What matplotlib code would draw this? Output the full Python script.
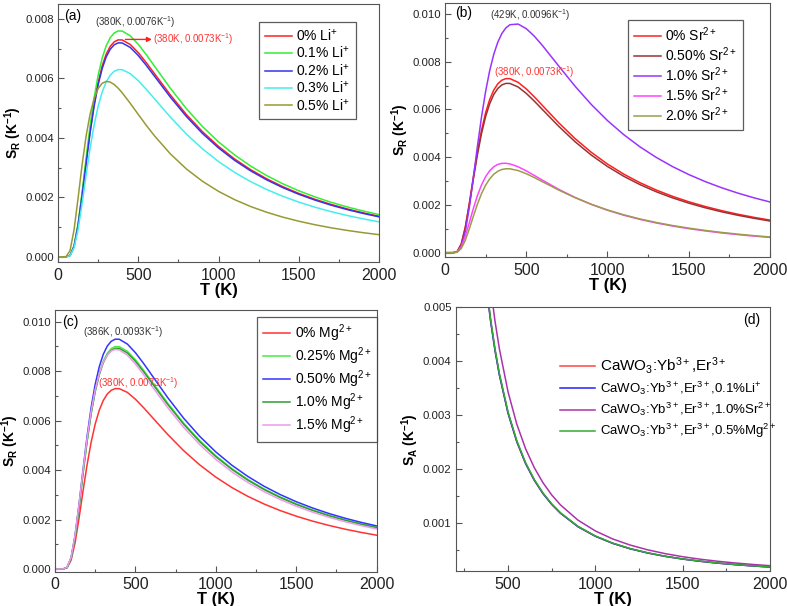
import numpy as np
import matplotlib
matplotlib.use('Agg')
import matplotlib.pyplot as plt
from matplotlib.ticker import MultipleLocator, FormatStrFormatter

plt.rcParams['font.family'] = ['Liberation Sans', 'DejaVu Sans']
plt.rcParams['mathtext.fontset'] = 'custom'
plt.rcParams['mathtext.rm'] = 'Liberation Sans'
plt.rcParams['mathtext.it'] = 'Liberation Sans:italic'
plt.rcParams['mathtext.bf'] = 'Liberation Sans:bold'

# temperature grid (K), values in units of 1e-3 K^-1
T = [0, 50, 75, 100, 125, 150, 175, 200, 225, 250, 275, 300, 325, 350, 375,
     400, 450, 500, 550, 600, 700, 800, 900, 1000, 1100, 1200, 1300, 1400, 1500, 1600, 1700, 1800, 1900, 2000]

s_0 = [0, 0.001, 0.048, 0.357, 1.069, 2.078, 3.185, 4.233, 5.136, 5.863, 6.415, 6.812, 7.074, 7.228, 7.294,
       7.291, 7.139, 6.864, 6.528, 6.166, 5.444, 4.784, 4.208, 3.714, 3.292, 2.933, 2.626, 2.362, 2.135, 1.938,
       1.766, 1.615, 1.483, 1.366]

# (a) Li+
li_01 = [0, 0.001, 0.050, 0.372, 1.113, 2.163, 3.316, 4.407, 5.347, 6.104, 6.679, 7.092, 7.365, 7.526, 7.594,
         7.590, 7.432, 7.146, 6.796, 6.420, 5.668, 4.981, 4.381, 3.866, 3.428, 3.054, 2.734, 2.459, 2.223, 2.018,
         1.838, 1.682, 1.544, 1.422]
li_02 = [0, 0.001, 0.048, 0.352, 1.055, 2.049, 3.141, 4.175, 5.066, 5.782, 6.327, 6.718, 6.978, 7.129, 7.194,
         7.191, 7.041, 6.770, 6.438, 6.082, 5.370, 4.719, 4.150, 3.663, 3.247, 2.893, 2.590, 2.330, 2.106, 1.912,
         1.742, 1.593, 1.463, 1.347]
li_03 = [0, 0.001, 0.042, 0.308, 0.923, 1.793, 2.749, 3.653, 4.433, 5.060, 5.536, 5.879, 6.105, 6.238, 6.295,
         6.292, 6.161, 5.924, 5.633, 5.322, 4.699, 4.129, 3.631, 3.205, 2.841, 2.531, 2.266, 2.039, 1.843, 1.673,
         1.524, 1.394, 1.280, 1.179]
li_05 = [0, 0.008, 0.212, 0.910, 1.972, 3.089, 4.057, 4.801, 5.324, 5.656, 5.835, 5.898, 5.877, 5.794, 5.669,
         5.516, 5.163, 4.789, 4.422, 4.076, 3.463, 2.956, 2.542, 2.204, 1.925, 1.694, 1.501, 1.338, 1.200, 1.082,
         0.980, 0.892, 0.815, 0.748]
li_labels = ['0% Li$^{+}$', '0.1% Li$^{+}$', '0.2% Li$^{+}$', '0.3% Li$^{+}$', '0.5% Li$^{+}$']
li_colors = ['#ff2020', '#33ee33', '#3333ee', '#44eeee', '#999933']

# (b) Sr2+
sr_05 = [0, 0.001, 0.047, 0.347, 1.040, 2.021, 3.098, 4.117, 4.996, 5.702, 6.239, 6.625, 6.881, 7.030, 7.094,
         7.091, 6.943, 6.676, 6.349, 5.997, 5.295, 4.653, 4.092, 3.612, 3.202, 2.853, 2.554, 2.298, 2.077, 1.885,
         1.717, 1.571, 1.443, 1.328]
sr_10 = [0, 0.000, 0.025, 0.245, 0.873, 1.904, 3.165, 4.473, 5.693, 6.752, 7.622, 8.307, 8.820, 9.183, 9.420,
         9.552, 9.579, 9.388, 9.069, 8.678, 7.821, 6.979, 6.212, 5.535, 4.946, 4.435, 3.993, 3.609, 3.275, 2.983,
         2.727, 2.502, 2.302, 2.125]
sr_15 = [0, 0.001, 0.039, 0.249, 0.687, 1.263, 1.860, 2.399, 2.843, 3.186, 3.433, 3.599, 3.698, 3.743, 3.747,
         3.720, 3.600, 3.429, 3.236, 3.038, 2.655, 2.316, 2.025, 1.779, 1.571, 1.395, 1.246, 1.118, 1.008, 0.914,
         0.831, 0.759, 0.696, 0.641]
sr_20 = [0, 0.000, 0.023, 0.172, 0.516, 1.002, 1.536, 2.041, 2.477, 2.827, 3.093, 3.285, 3.411, 3.486, 3.517,
         3.515, 3.442, 3.310, 3.148, 2.973, 2.625, 2.307, 2.029, 1.791, 1.588, 1.414, 1.266, 1.139, 1.030, 0.935,
         0.851, 0.779, 0.715, 0.659]
sr_labels = ['0% Sr$^{2+}$', '0.50% Sr$^{2+}$', '1.0% Sr$^{2+}$', '1.5% Sr$^{2+}$', '2.0% Sr$^{2+}$']
sr_colors = ['#ff2020', '#993333', '#9933ff', '#ff44ff', '#9c9c4a']

# (c) Mg2+
mg_025 = [0, 0.001, 0.059, 0.440, 1.319, 2.561, 3.927, 5.219, 6.332, 7.228, 7.909, 8.398, 8.722, 8.912, 8.993,
          8.988, 8.801, 8.463, 8.048, 7.602, 6.712, 5.899, 5.188, 4.578, 4.059, 3.616, 3.237, 2.912, 2.633, 2.390,
          2.177, 1.992, 1.829, 1.684]
mg_050 = [0, 0.001, 0.061, 0.455, 1.362, 2.647, 4.058, 5.393, 6.543, 7.469, 8.173, 8.678, 9.013, 9.209, 9.293,
          9.288, 9.094, 8.745, 8.316, 7.856, 6.936, 6.095, 5.361, 4.731, 4.194, 3.737, 3.345, 3.009, 2.720, 2.469,
          2.250, 2.058, 1.890, 1.740]
mg_10 = [0, 0.001, 0.059, 0.437, 1.308, 2.541, 3.896, 5.179, 6.283, 7.172, 7.848, 8.333, 8.654, 8.842, 8.923,
         8.918, 8.733, 8.397, 7.985, 7.543, 6.660, 5.853, 5.147, 4.543, 4.027, 3.588, 3.212, 2.890, 2.612, 2.371,
         2.160, 1.976, 1.815, 1.671]
mg_15 = [0, 0.001, 0.067, 0.474, 1.388, 2.653, 4.021, 5.299, 6.387, 7.251, 7.901, 8.358, 8.654, 8.819, 8.878,
         8.857, 8.643, 8.289, 7.866, 7.416, 6.529, 5.726, 5.028, 4.431, 3.924, 3.493, 3.125, 2.809, 2.537, 2.302,
         2.097, 1.917, 1.759, 1.620]
mg_labels = ['0% Mg$^{2+}$', '0.25% Mg$^{2+}$', '0.50% Mg$^{2+}$', '1.0% Mg$^{2+}$', '1.5% Mg$^{2+}$']
mg_colors = ['#ff3333', '#44ee44', '#3333ff', '#339933', '#ee99ee']

# (d) S_A
T_d = [350, 375, 400, 425, 450, 500, 550, 600, 650, 700, 750, 800, 900, 1000, 1100, 1200, 1300, 1400, 1500,
       1600, 1700, 1800, 1900, 2000]
sa_0 = [6.204, 5.404, 4.750, 4.208, 3.753, 3.040, 2.512, 2.111, 1.799, 1.551, 1.351, 1.188, 0.938, 0.760, 0.628,
        0.528, 0.450, 0.388, 0.338, 0.297, 0.263, 0.235, 0.211, 0.190]
sa_li = [6.204, 5.404, 4.750, 4.208, 3.753, 3.040, 2.512, 2.111, 1.799, 1.551, 1.351, 1.188, 0.938, 0.760, 0.628,
         0.528, 0.450, 0.388, 0.338, 0.297, 0.263, 0.235, 0.211, 0.190]
sa_sr = [7.004, 6.101, 5.363, 4.750, 4.237, 3.432, 2.836, 2.383, 2.031, 1.751, 1.525, 1.341, 1.059, 0.858, 0.709,
         0.596, 0.508, 0.438, 0.381, 0.335, 0.297, 0.265, 0.238, 0.215]
sa_mg = [6.245, 5.440, 4.781, 4.235, 3.778, 3.060, 2.529, 2.125, 1.811, 1.561, 1.360, 1.195, 0.944, 0.765, 0.632,
         0.531, 0.453, 0.390, 0.340, 0.299, 0.265, 0.236, 0.212, 0.191]
d_labels = ['CaWO$_3$:Yb$^{3+}$,Er$^{3+}$', 'CaWO$_3$:Yb$^{3+}$,Er$^{3+}$,0.1%Li$^{+}$',
            'CaWO$_3$:Yb$^{3+}$,Er$^{3+}$,1.0%Sr$^{2+}$', 'CaWO$_3$:Yb$^{3+}$,Er$^{3+}$,0.5%Mg$^{2+}$']
d_colors = ['#ff4444', '#2222ff', '#aa33aa', '#33aa33']

fig = plt.figure(figsize=(7.87, 6.06), dpi=100)
axa = fig.add_axes([0.0737, 0.5677, 0.4079, 0.4257])
axb = fig.add_axes([0.5654, 0.5759, 0.4130, 0.4191])
axc = fig.add_axes([0.0699, 0.0566, 0.4087, 0.4318])
axd = fig.add_axes([0.5790, 0.0578, 0.3994, 0.4351])

def style(ax, xlim, ylim, ystep, ylab):
    ax.set_xlim(*xlim)
    ax.set_ylim(*ylim)
    ax.xaxis.set_major_locator(MultipleLocator(500))
    ax.xaxis.set_minor_locator(MultipleLocator(250))
    ax.yaxis.set_major_locator(MultipleLocator(ystep))
    ax.yaxis.set_minor_locator(MultipleLocator(ystep / 2))
    ax.yaxis.set_major_formatter(FormatStrFormatter('%.3f'))
    ax.tick_params(which='both', direction='in', top=False, right=False, color='#555555', labelcolor='#222222')
    ax.tick_params(which='major', length=4.5, width=0.8)
    ax.tick_params(which='minor', length=2.5, width=0.8)
    ax.tick_params(axis='x', labelsize=11.5, pad=4)
    ax.tick_params(axis='y', labelsize=8.2, pad=3)
    for s in ax.spines.values():
        s.set_color('#555555')
        s.set_linewidth(0.8)
    ax.set_xlabel('T (K)', fontsize=12, fontweight='bold', labelpad=0)
    ax.set_ylabel(ylab, fontsize=10, fontweight='bold', labelpad=1)

def leg(ax, x, y):
    l = ax.legend(loc='upper left', bbox_to_anchor=(x, y), fontsize=10, frameon=True, fancybox=False,
                  edgecolor='#333333', handlelength=2.0, handletextpad=0.3, labelspacing=0.1,
                  borderpad=0.4, borderaxespad=0)
    l.get_frame().set_linewidth(0.9)
    return l

sr_lab = 'S$_\\mathbf{R}$ (K$^\\mathbf{-1}$)'
T = np.array(T)

# (a)
for v, lab, c in zip([s_0, li_01, li_02, li_03, li_05], li_labels, li_colors):
    axa.plot(T, np.array(v) * 1e-3, color=c, lw=1.1, label=lab)
style(axa, (0, 2000), (-0.00017, 0.0085), 0.002, sr_lab)
leg(axa, 0.626, 0.930)
axa.text(93, 0.00809, '(a)', fontsize=10, ha='center', va='center')
axa.text(480, 0.0079, '(380K, 0.0076K$^{-1}$)', fontsize=7, color='#333333', ha='center', va='center')
axa.text(592, 0.00731, '(380K, 0.0073K$^{-1}$)', fontsize=7, color='#ff3333', ha='left', va='center')
axa.annotate('', xy=(585, 0.00731), xytext=(420, 0.00731),
             arrowprops=dict(arrowstyle='-|>', color='#ff2020', lw=1, mutation_scale=7, shrinkA=0, shrinkB=0))

# (b)
for v, lab, c in zip([s_0, sr_05, sr_10, sr_15, sr_20], sr_labels, sr_colors):
    axb.plot(T, np.array(v) * 1e-3, color=c, lw=1.1, label=lab)
style(axb, (0, 2000), (-0.00018, 0.01046), 0.002, sr_lab)
leg(axb, 0.563, 0.933)
axb.text(117, 0.01005, '(b)', fontsize=10, ha='center', va='center')
axb.text(523, 0.00997, '(429K, 0.0096K$^{-1}$)', fontsize=7, color='#333333', ha='center', va='center')
axb.text(548, 0.00758, '(380K, 0.0073K$^{-1}$)', fontsize=7, color='#ff3333', ha='center', va='center')

# (c)
for v, lab, c in zip([s_0, mg_025, mg_050, mg_10, mg_15], mg_labels, mg_colors):
    axc.plot(T, np.array(v) * 1e-3, color=c, lw=1.1, label=lab)
style(axc, (0, 2000), (-0.00011, 0.01047), 0.002, sr_lab)
leg(axc, 0.628, 0.973)
axc.text(93, 0.0100, '(c)', fontsize=10, ha='center', va='center')
axc.text(425, 0.00959, '(386K, 0.0093K$^{-1}$)', fontsize=7, color='#333333', ha='center', va='center')
axc.text(518, 0.0075, '(380K, 0.0073K$^{-1}$)', fontsize=7, color='#ff3333', ha='center', va='center')

# (d)
T_d = np.array(T_d)
for v, lab, c in zip([sa_0, sa_li, sa_sr, sa_mg], d_labels, d_colors):
    axd.plot(T_d, np.array(v) * 1e-3, color=c, lw=1.1, label=lab)
style(axd, (200, 2000), (0.000117, 0.005), 0.001, 'S$_\\mathbf{A}$ (K$^\\mathbf{-1}$)')
ld = axd.legend(loc='upper left', bbox_to_anchor=(0.325, 0.83), fontsize=9.5, frameon=False,
                handlelength=2.6, handletextpad=0.4, labelspacing=0.3, borderpad=0.2, borderaxespad=0)
ld.get_texts()[0].set_fontsize(11)
axd.text(1895, 0.004765, '(d)', fontsize=10, ha='center', va='center')

fig.savefig('out.png', dpi=100)
